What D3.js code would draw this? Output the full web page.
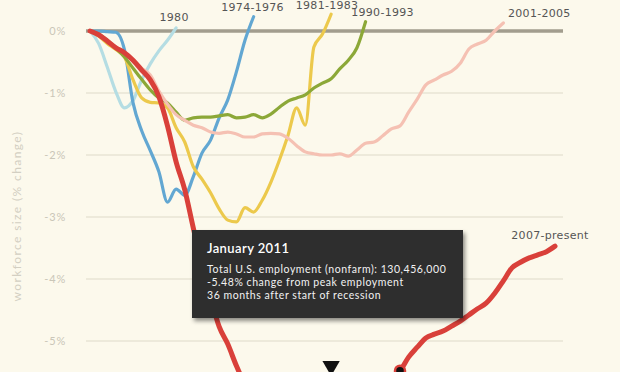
<!DOCTYPE html>
<html>
<head>
<meta charset="utf-8">
<script src="https://cdn.jsdelivr.net/npm/d3@7"></script>
<style>
body { margin:0; background:#fcf9ec; overflow:hidden; }
svg { display:block; font-family: Lato, "Open Sans", sans-serif; }
.series-label { font-family: "DejaVu Sans", sans-serif; }
</style>
</head>
<body>
<svg id="chart"></svg>
<script>
var width = 620,
    height = 372;

// % change in workforce size, one value per month after start of recession
var recessions = ["1980", "1974-1976", "1981-1983", "1990-1993", "2001-2005", "2007-present"];
var v1980 = [0, -0.2, -0.58, -0.98, -1.24, -1.12, -0.79, -0.53, -0.32, -0.15, 0.05];
var v1974 = [0, 0, -0.01, -0.02, -0.3, -1.16, -1.61, -1.93, -2.27, -2.76, -2.55, -2.65, -2.35, -1.97,
             -1.76, -1.4, -1.11, -0.66, -0.15, 0.23];
var v1981 = [0, -0.08, -0.2, -0.3, -0.42, -0.79, -1.08, -1.15, -1.16, -1.24, -1.56, -1.79, -2.19, -2.39,
             -2.61, -2.87, -3.05, -3.08, -2.85, -2.92, -2.73, -2.44, -2.08, -1.68, -1.24, -1.52, -0.26, -0.05, 0.27];
var v1990 = [0, -0.05, -0.15, -0.28, -0.42, -0.6, -0.78, -0.95, -1.08, -1.16, -1.31, -1.44, -1.4, -1.39,
             -1.39, -1.37, -1.35, -1.4, -1.39, -1.35, -1.4, -1.34, -1.23, -1.13, -1.08, -1.03, -0.92, -0.84,
             -0.77, -0.61, -0.47, -0.27, 0.15];
var v2001 = [0, -0.06, -0.16, -0.26, -0.35, -0.47, -0.6, -0.71, -0.97, -1.18, -1.35, -1.44, -1.52, -1.56,
             -1.63, -1.65, -1.63, -1.66, -1.71, -1.71, -1.66, -1.65, -1.66, -1.73, -1.85, -1.95, -1.98, -2.0,
             -2.0, -1.98, -2.02, -1.92, -1.81, -1.79, -1.69, -1.58, -1.53, -1.31, -1.1, -0.87, -0.79, -0.71,
             -0.65, -0.52, -0.29, -0.21, -0.15, 0.0, 0.13];
var v2007 = [0, -0.06, -0.16, -0.27, -0.35, -0.47, -0.63, -0.79, -1.06, -1.53, -2.11, -2.56, -3.18, -3.77,
             -4.3, -4.77, -5.05, -5.4, -5.7, -5.9, -6.02, -6.1, -6.16, -6.2, -6.24, -6.27, -6.25, -6.22,
             -6.18, -6.12, -6.05, -5.96, -5.86, -5.76, -5.66, -5.57, -5.48, -5.26, -5.1, -4.95, -4.89, -4.84,
             -4.76, -4.68, -4.58, -4.48, -4.39, -4.23, -4.03, -3.82, -3.73, -3.66, -3.61, -3.56, -3.47];
var seriesValues = [v1980, v1974, v1981, v1990, v2001, v2007];
var colors = ["#b5dde3", "#62a7d2", "#ecc94c", "#8ca838", "#f5c1b3", "#d9403a"];

var yTicks = [0, -1, -2, -3, -4, -5];
var tickLabels = ["0%", "-1%", "-2%", "-3%", "-4%", "-5%"];

var hoverMonth = 36;
var markerMonth = 28;
var tipTitle = "January 2011";
var tipLines = ["Total U.S. employment (nonfarm): 130,456,000",
                "-5.48% change from peak employment",
                "36 months after start of recession"];

// label offsets from the last point of each line
var labelOffsets = [[-2, -7], [-1, -6], [-4, -5], [17, -6], [36, -6], [-5, -7]];

var x = d3.scaleLinear().domain([0, 36]).range([90, 400]);
var y = d3.scaleLinear().domain([0, -5]).range([31, 341]);

var svg = d3.select("#chart")
            .attr("width", width)
            .attr("height", height);

var defs = svg.append("defs");
defs.append("filter")
    .attr("id", "shadow")
    .attr("x", "-10%").attr("y", "-10%")
    .attr("width", "120%").attr("height", "130%")
    .append("feDropShadow")
    .attr("dx", 2).attr("dy", 3)
    .attr("stdDeviation", 2)
    .attr("flood-color", "#000")
    .attr("flood-opacity", 0.45);

// grid
svg.append("g")
   .selectAll("line")
   .data(yTicks)
   .join("line")
   .attr("x1", 86)
   .attr("x2", 563)
   .attr("y1", d => y(d))
   .attr("y2", d => y(d))
   .attr("stroke", d => d === 0 ? "#a29d8e" : "#dedac9")
   .attr("stroke-width", d => d === 0 ? 3.5 : 1);

svg.append("g")
   .selectAll("text")
   .data(yTicks)
   .join("text")
   .attr("x", 66)
   .attr("y", d => y(d))
   .attr("dy", "0.35em")
   .attr("text-anchor", "end")
   .attr("font-size", 11)
   .attr("letter-spacing", 0.8)
   .attr("fill", "#cac6b8")
   .text((d, i) => tickLabels[i]);

svg.append("text")
   .attr("transform", "translate(21," + 216 + ") rotate(-90)")
   .attr("text-anchor", "middle")
   .attr("font-size", 12)
   .attr("letter-spacing", 1.4)
   .attr("fill", "#d3cfc2")
   .text("workforce size (% change)");

var line = d3.line()
             .x((d, i) => x(i))
             .y(d => y(d))
             .curve(d3.curveMonotoneX);

svg.append("g")
   .selectAll("path")
   .data(seriesValues)
   .join("path")
   .attr("d", d => line(d))
   .attr("fill", "none")
   .attr("stroke", (d, i) => colors[i])
   .attr("stroke-width", (d, i) => i === 5 ? 5 : 3.2)
   .attr("stroke-linejoin", "round")
   .attr("stroke-linecap", "round");

svg.append("g")
   .selectAll("text")
   .data(seriesValues)
   .join("text")
   .attr("class", "series-label")
   .attr("x", (d, i) => x(d.length - 1) + labelOffsets[i][0])
   .attr("y", (d, i) => y(d[d.length - 1]) + labelOffsets[i][1])
   .attr("text-anchor", "middle")
   .attr("font-size", 11)
   .attr("letter-spacing", 0.3)
   .attr("fill", "#555")
   .text((d, i) => recessions[i]);

// hover marker
svg.append("circle")
   .attr("cx", x(hoverMonth))
   .attr("cy", y(v2007[hoverMonth]))
   .attr("r", 5)
   .attr("fill", "#111")
   .attr("stroke", "#d9403a")
   .attr("stroke-width", 2.5);

svg.append("path")
   .attr("d", d3.symbol(d3.symbolTriangle, 130)())
   .attr("transform", "translate(" + x(markerMonth) + ",366) rotate(180)")
   .attr("fill", "#111");

// tooltip
var tip = svg.append("g").attr("transform", "translate(192,230)");
tip.append("rect")
   .attr("width", 271)
   .attr("height", 88)
   .attr("fill", "#2f2f2f")
   .attr("filter", "url(#shadow)");
tip.append("text")
   .attr("x", 15)
   .attr("y", 23)
   .attr("font-size", 13)
   .attr("font-weight", 600)
   .attr("letter-spacing", 0.4)
   .attr("fill", "#fff")
   .text(tipTitle);
tip.selectAll("text.body")
   .data(tipLines)
   .join("text")
   .attr("class", "body")
   .attr("x", 15)
   .attr("y", (d, i) => 43 + i * 13)
   .attr("font-size", 10.5)
   .attr("letter-spacing", 0.55)
   .attr("fill", "#f2f2f2")
   .text(d => d);
</script>
</body>
</html>
